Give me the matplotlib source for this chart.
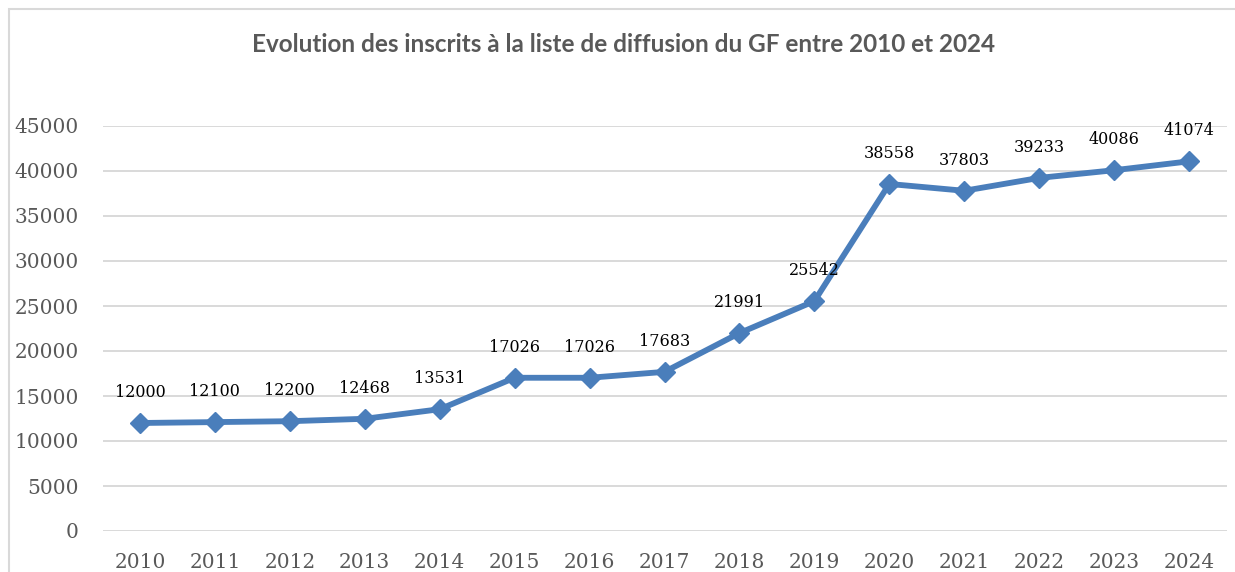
import matplotlib
matplotlib.use("Agg")
import matplotlib.pyplot as plt
from matplotlib.patches import Rectangle

years = ["2010", "2011", "2012", "2013", "2014", "2015", "2016", "2017",
         "2018", "2019", "2020", "2021", "2022", "2023", "2024"]
inscrits = [12000, 12100, 12200, 12468, 13531, 17026, 17026, 17683,
            21991, 25542, 38558, 37803, 39233, 40086, 41074]
yticks = [0, 5000, 10000, 15000, 20000, 25000, 30000, 35000, 40000, 45000]
title = "Evolution des inscrits à la liste de diffusion du GF entre 2010 et 2024"

W, H = 1235, 572
fig = plt.figure(figsize=(W / 100, H / 100), dpi=100)
fig.patch.set_facecolor("white")

# outer chart border (cropped on right and bottom)
fig.patches.append(Rectangle((9 / W, -0.1), 1.2, 1 - 9 / H + 0.1,
                             transform=fig.transFigure, fill=False,
                             edgecolor="#d9d9d9", linewidth=1.5, zorder=0))

ax = fig.add_axes([102.5 / W, 1 - 531 / H, (1226.5 - 102.5) / W, (531 - 126) / H])
x = list(range(len(years)))
ax.plot(x, inscrits, color="#4a7ebb", linewidth=4.2, marker="D",
        markersize=10.5, markeredgecolor="#4a7ebb", markeredgewidth=1,
        solid_joinstyle="round", zorder=3, clip_on=False)

for xi, v in zip(x, inscrits):
    ax.annotate(str(v), (xi, v), xytext=(0, 22), textcoords="offset points",
                ha="center", va="center", fontsize=11.5, family="DejaVu Serif",
                color="black", zorder=4)

ax.set_xlim(-0.5, len(years) - 0.5)
ax.set_ylim(0, 45000)
ax.set_xticks(x)
ax.set_xticklabels(years)
ax.set_yticks(yticks)
ax.set_yticklabels([str(t) for t in yticks])
ax.tick_params(axis="both", length=0, labelsize=14.5, labelcolor="#595959")
ax.tick_params(axis="y", pad=17)
ax.tick_params(axis="x", pad=16)
for lab in ax.get_xticklabels() + ax.get_yticklabels():
    lab.set_family("DejaVu Serif")
ax.grid(axis="y", color="#d9d9d9", linewidth=1.4)
ax.set_axisbelow(True)
for s in ax.spines.values():
    s.set_visible(False)

fig.text(623 / W, 1 - 45 / H, title, ha="center", va="center",
         fontsize=17.5, fontweight="bold", family="Lato", color="#595959")

fig.savefig("out.png", dpi=100)
